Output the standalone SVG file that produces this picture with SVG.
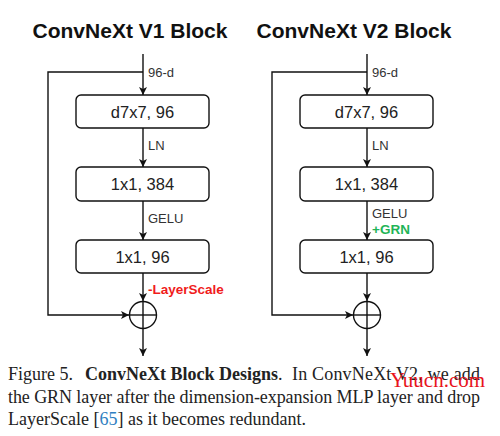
<svg xmlns="http://www.w3.org/2000/svg" width="500" height="436" viewBox="0 0 500 436">
<style>
.t{font-family:"Liberation Sans",Arial,sans-serif;font-weight:bold;font-size:21px;fill:#111;text-anchor:middle}
.box{fill:#fff;stroke:#111;stroke-width:1.4}
.bt{font-family:"Liberation Sans",Arial,sans-serif;font-size:16.5px;fill:#222;text-anchor:middle}
.lb{font-family:"Liberation Sans",Arial,sans-serif;font-size:13px;fill:#333}
.red{font-family:"Liberation Sans",Arial,sans-serif;font-size:13.5px;font-weight:bold;fill:#f01c1c}
.grn{font-family:"Liberation Sans",Arial,sans-serif;font-size:13.5px;font-weight:bold;fill:#1fb457}
.ln{fill:none;stroke:#111;stroke-width:1.4}
.cap{font-family:"Liberation Serif","Times New Roman",serif;font-size:18px;fill:#222}
</style>
<defs>
<marker id="ah" markerWidth="10" markerHeight="10" refX="8" refY="4" orient="auto" markerUnits="userSpaceOnUse">
<path d="M0,0 L8,4 L0,8 L2,4 Z" fill="#111"/>
</marker>
</defs>
<text class="t" x="130" y="38">ConvNeXt V1 Block</text>
<text class="t" x="354" y="38">ConvNeXt V2 Block</text>
<g id="connectors">
<line class="ln" x1="143" y1="54" x2="143" y2="95" marker-end="url(#ah)"/>
<polyline class="ln" points="143,72 48,72 48,315 129,315" marker-end="url(#ah)"/>
<line class="ln" x1="143" y1="128" x2="143" y2="167" marker-end="url(#ah)"/>
<line class="ln" x1="143" y1="201" x2="143" y2="240" marker-end="url(#ah)"/>
<line class="ln" x1="143" y1="273" x2="143" y2="301" marker-end="url(#ah)"/>
<line class="ln" x1="143" y1="329" x2="143" y2="356" marker-end="url(#ah)"/>
<line class="ln" x1="367" y1="54" x2="367" y2="95" marker-end="url(#ah)"/>
<polyline class="ln" points="367,72 272,72 272,315 353,315" marker-end="url(#ah)"/>
<line class="ln" x1="367" y1="128" x2="367" y2="167" marker-end="url(#ah)"/>
<line class="ln" x1="367" y1="201" x2="367" y2="240" marker-end="url(#ah)"/>
<line class="ln" x1="367" y1="273" x2="367" y2="301" marker-end="url(#ah)"/>
<line class="ln" x1="367" y1="329" x2="367" y2="356" marker-end="url(#ah)"/>
<text class="lb" x="148" y="77">96-d</text>
<text class="lb" x="148" y="150">LN</text>
<text class="lb" x="148" y="223">GELU</text>
<text class="red" x="148" y="294">-LayerScale</text>
<text class="lb" x="372" y="77">96-d</text>
<text class="lb" x="372" y="150">LN</text>
<text class="lb" x="372" y="218">GELU</text>
<text class="grn" x="372" y="234">+GRN</text>
</g>
<g id="v1-dw"><rect class="box" x="76" y="95" width="133" height="33" rx="5"/><text class="bt" x="142.5" y="117.5">d7x7, 96</text></g>
<g id="v1-pw1"><rect class="box" x="76" y="167" width="133" height="34" rx="5"/><text class="bt" x="142.5" y="190">1x1, 384</text></g>
<g id="v1-pw2"><rect class="box" x="76" y="240" width="133" height="33" rx="5"/><text class="bt" x="142.5" y="262.5">1x1, 96</text></g>
<g id="v1-add"><circle class="ln" cx="143" cy="315" r="13.5"/><line class="ln" x1="129.5" y1="315" x2="156.5" y2="315"/><line class="ln" x1="143" y1="301.5" x2="143" y2="328.5"/></g>
<g id="v2-dw"><rect class="box" x="300" y="95" width="133" height="33" rx="5"/><text class="bt" x="366.5" y="117.5">d7x7, 96</text></g>
<g id="v2-pw1"><rect class="box" x="300" y="167" width="133" height="34" rx="5"/><text class="bt" x="366.5" y="190">1x1, 384</text></g>
<g id="v2-pw2"><rect class="box" x="300" y="240" width="133" height="33" rx="5"/><text class="bt" x="366.5" y="262.5">1x1, 96</text></g>
<g id="v2-add"><circle class="ln" cx="367" cy="315" r="13.5"/><line class="ln" x1="353.5" y1="315" x2="380.5" y2="315"/><line class="ln" x1="367" y1="301.5" x2="367" y2="328.5"/></g>
<g id="caption">
<text class="cap" x="8" y="380">Figure 5.<tspan x="85" font-weight="bold">ConvNeXt Block Designs</tspan>.</text>
<text class="cap" x="292" y="380" textLength="188" lengthAdjust="spacing">In ConvNeXt V2, we add</text>
<text class="cap" x="8" y="402.5" textLength="472" lengthAdjust="spacing">the GRN layer after the dimension-expansion MLP layer and drop</text>
<text class="cap" x="8" y="425">LayerScale [<tspan fill="#2f7fc1">65</tspan>] as it becomes redundant.</text>
<text x="390" y="387" font-family="'Liberation Serif','Times New Roman',serif" font-size="21" fill="#e8141c">Yuucn.com</text>
</g>
</svg>
